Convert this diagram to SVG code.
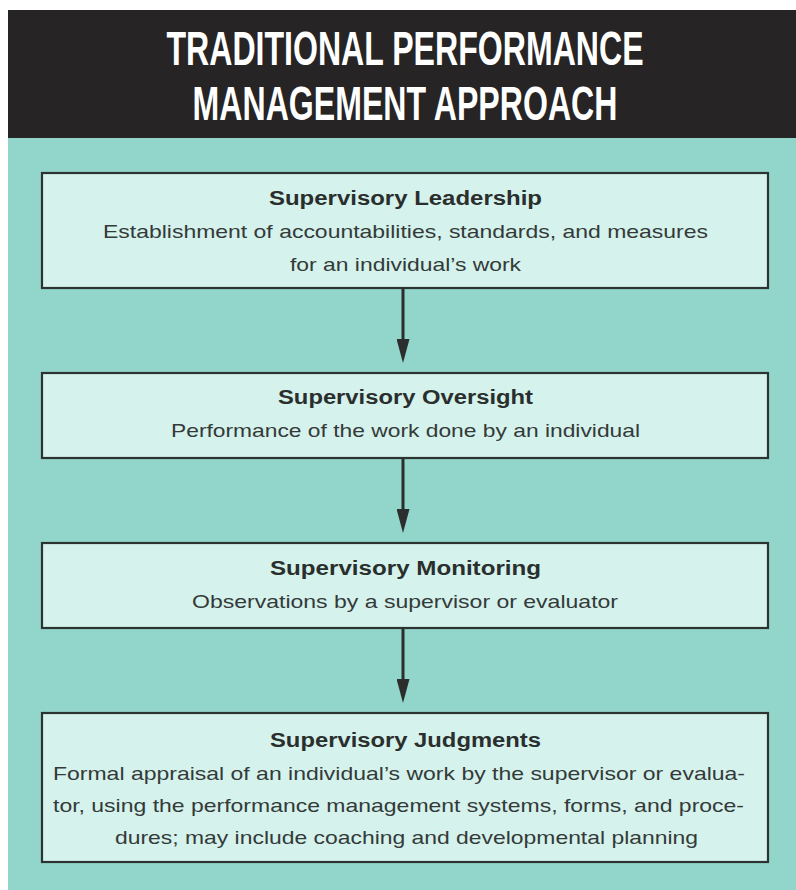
<svg xmlns="http://www.w3.org/2000/svg" width="796" height="890" viewBox="0 0 796 890">
  <style>
    .head { font-family: "Liberation Sans", Arial, sans-serif; font-weight: bold; font-size: 49px; fill: #ffffff; text-anchor: middle; }
    .box { fill: #d5f2ec; stroke: #2b3431; stroke-width: 2.2; }
    .ttl { font-family: "Liberation Sans", Arial, sans-serif; font-weight: bold; font-size: 20px; fill: #2a2f2e; }
    .txt { font-family: "Liberation Sans", Arial, sans-serif; font-size: 18.5px; fill: #343a39; }
    .flow { stroke: #2b2e2d; stroke-width: 3; fill: none; marker-end: url(#tip); }
  </style>
  <defs>
    <marker id="tip" viewBox="0 0 24 13" refX="16" refY="6.5" markerWidth="24" markerHeight="13" markerUnits="userSpaceOnUse" orient="auto">
      <path d="M0,0 L24,6.5 L0,13 z" fill="#2b2e2d"/>
    </marker>
  </defs>

  <!-- page -->
  <rect x="0" y="0" width="796" height="890" fill="#ffffff"/>
  <rect x="8" y="138" width="788" height="752" fill="#92d5cb"/>

  <!-- header band, title set in a narrowed bold face -->
  <g id="header">
    <rect x="8" y="10" width="788" height="128" fill="#262424"/>
    <g transform="translate(405,0) scale(0.655,1)">
      <text class="head" x="0" y="65">TRADITIONAL PERFORMANCE</text>
      <text class="head" x="0" y="120">MANAGEMENT APPROACH</text>
    </g>
  </g>

  <!-- connectors -->
  <g id="connectors">
    <line class="flow" x1="403" y1="288" x2="403" y2="355"/>
    <line class="flow" x1="403" y1="458" x2="403" y2="525"/>
    <line class="flow" x1="403" y1="628" x2="403" y2="695"/>
  </g>

  <g id="leadership">
    <rect class="box" x="42" y="173" width="726" height="115"/>
    <text class="ttl" x="269" y="205" textLength="273" lengthAdjust="spacingAndGlyphs">Supervisory Leadership</text>
    <text class="txt" x="103" y="238" textLength="605" lengthAdjust="spacingAndGlyphs">Establishment of accountabilities, standards, and measures</text>
    <text class="txt" x="290" y="271" textLength="231" lengthAdjust="spacingAndGlyphs">for an individual’s work</text>
  </g>

  <g id="oversight">
    <rect class="box" x="42" y="373" width="726" height="85"/>
    <text class="ttl" x="278" y="404" textLength="255" lengthAdjust="spacingAndGlyphs">Supervisory Oversight</text>
    <text class="txt" x="171" y="437" textLength="469" lengthAdjust="spacingAndGlyphs">Performance of the work done by an individual</text>
  </g>

  <g id="monitoring">
    <rect class="box" x="42" y="543" width="726" height="85"/>
    <text class="ttl" x="270" y="575" textLength="271" lengthAdjust="spacingAndGlyphs">Supervisory Monitoring</text>
    <text class="txt" x="192" y="608" textLength="426" lengthAdjust="spacingAndGlyphs">Observations by a supervisor or evaluator</text>
  </g>

  <g id="judgments">
    <rect class="box" x="42" y="713" width="726" height="149"/>
    <text class="ttl" x="270" y="747" textLength="271" lengthAdjust="spacingAndGlyphs">Supervisory Judgments</text>
    <text class="txt" x="53" y="780" textLength="692" lengthAdjust="spacingAndGlyphs">Formal appraisal of an individual’s work by the supervisor or evalua-</text>
    <text class="txt" x="53" y="812" textLength="691" lengthAdjust="spacingAndGlyphs">tor, using the performance management systems, forms, and proce-</text>
    <text class="txt" x="115" y="844" textLength="583" lengthAdjust="spacingAndGlyphs">dures; may include coaching and developmental planning</text>
  </g>
</svg>
